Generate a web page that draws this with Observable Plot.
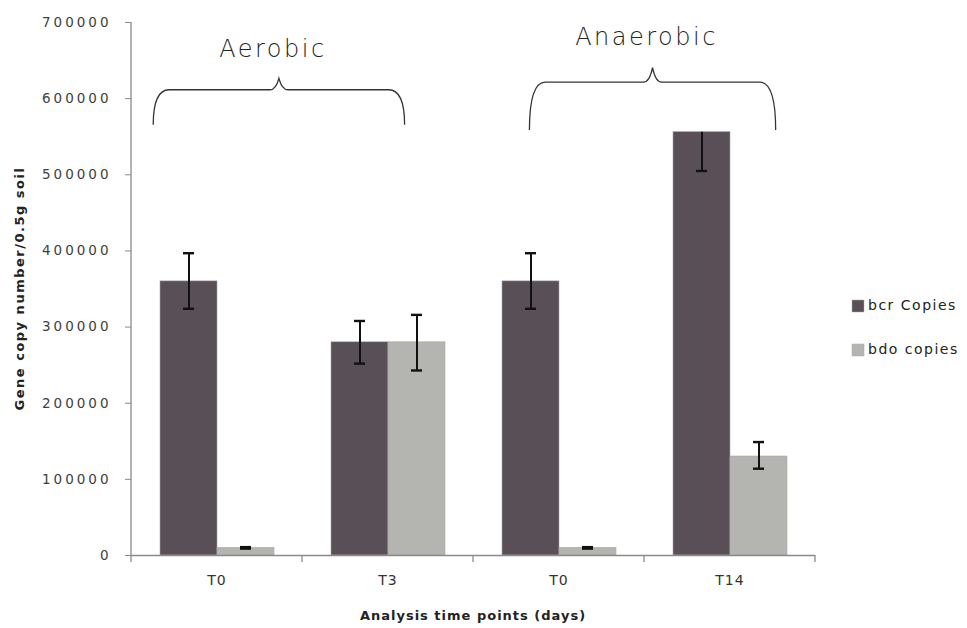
<!DOCTYPE html>
<html><head><meta charset="utf-8">
<script src="https://cdn.jsdelivr.net/npm/d3@7"></script>
<script src="https://cdn.jsdelivr.net/npm/@observablehq/plot@0.6"></script>
<style>
html,body{margin:0;padding:0;background:#fff;}
#chart{position:relative;width:967px;height:628px;}
</style></head><body><div id="chart"></div>
<script>
// ---- data ----
const categories = ["T0-aerobic", "T3", "T0-anaerobic", "T14"];
const tickLabels = ["T0", "T3", "T0", "T14"];
const series = ["bcr Copies", "bdo copies"];
const bcrValues = [360000, 280000, 360000, 556000];
const bdoValues = [10000, 280000, 10000, 130000];
const bcrErrUp = [37000, 28000, 37000, 0];
const bcrErrDown = [36000, 28000, 36000, 51000];
const bdoErrUp = [1000, 36000, 1000, 19000];
const bdoErrDown = [1000, 37000, 1000, 16000];
const yTicks = [0, 100000, 200000, 300000, 400000, 500000, 600000, 700000];
const groupNames = ["Aerobic", "Anaerobic"];
const groupFrom = ["T0-aerobic", "T0-anaerobic"];
const groupTo = ["T3", "T14"];
const braceEnd = [565000, 558000];
const braceMid = [611000, 621000];
const bracePeak = [626000, 640000];
const groupLabelY = [654000, 670000];
const yTitle = "Gene copy number/0.5g soil";
const xTitle = "Analysis time points (days)";

// ---- layout / style ----
const braceFromFrac = [0.13, 0.33];
const braceToFrac = [0.60, 0.77];
const colors = ["#584f57", "#b4b4b0"];
const FONT = "'DejaVu Sans', sans-serif";

const rows = categories.flatMap((c, i) => [
  {cat: c, series: series[0], value: bcrValues[i], hi: bcrValues[i] + bcrErrUp[i], lo: bcrValues[i] - bcrErrDown[i], up: bcrErrUp[i]},
  {cat: c, series: series[1], value: bdoValues[i], hi: bdoValues[i] + bdoErrUp[i], lo: bdoValues[i] - bdoErrDown[i], up: bdoErrUp[i]}
]);

const plot = Plot.plot({
  width: 967, height: 628,
  marginLeft: 130, marginRight: 152, marginTop: 22, marginBottom: 73,
  style: {fontFamily: FONT, fontSize: "13.5px", background: "#fff", color: "#404040", overflow: "visible"},
  fx: {domain: categories, padding: 0, label: null},
  x: {domain: series, paddingInner: 0, paddingOuter: 0.5, axis: null},
  y: {domain: [0, 700000]},
  color: {domain: series, range: colors},
  marks: [
    Plot.barY(rows, {fx: "cat", x: "series", y: "value", fill: "series", stroke: "#a8a8a8", strokeWidth: 0.6}),
    Plot.ruleX(rows, {fx: "cat", x: "series", y1: "lo", y2: "hi", stroke: "#111", strokeWidth: 2}),
    Plot.tickY(rows.filter(d => d.up > 0), {fx: "cat", x: "series", y: "hi", stroke: "#111", strokeWidth: 2.4, insetLeft: 23, insetRight: 23}),
    Plot.tickY(rows, {fx: "cat", x: "series", y: "lo", stroke: "#111", strokeWidth: 2.4, insetLeft: 23, insetRight: 23}),
    Plot.ruleY([0], {stroke: "#8a8a8a", strokeWidth: 1.3}),
    Plot.axisY({ticks: yTicks, tickFormat: d3.format("d"), tickSize: 6, tickPadding: 14, stroke: "#8a8a8a", fill: "#404040", label: null, fontSize: 13.5}),
    Plot.axisFx({anchor: "bottom", tickSize: 0, tickPadding: 20, tickFormat: c => tickLabels[categories.indexOf(c)], label: null, fill: "#333", fontSize: 14})
  ]
});

document.getElementById("chart").appendChild(plot);

// ---- annotations using the plot's own scales ----
const svg = d3.select(plot);
svg.selectAll("g[aria-label='y-axis tick label']").style("letter-spacing", "3px");
svg.selectAll("g[aria-label='fx-axis tick label']").style("letter-spacing", "1px");

const fxO = plot.scale("fx"), yO = plot.scale("y");
const fxS = d3.scaleBand(fxO.domain, fxO.range)
  .paddingInner(fxO.paddingInner ?? 0).paddingOuter(fxO.paddingOuter ?? 0)
  .align(fxO.align ?? 0.5).round(!!fxO.round);
const yS = d3.scaleLinear(yO.domain, yO.range);
const bw = fxS.bandwidth();
const x0 = fxS(categories[0]), x1 = fxS(categories[categories.length - 1]) + bw;
const base = yS(0);

// y axis line
svg.append("line").attr("x1", x0).attr("x2", x0).attr("y1", yS(0)).attr("y2", yS(700000))
  .attr("stroke", "#8a8a8a").attr("stroke-width", 1.3);
// category boundary ticks
const edges = categories.map(c => fxS(c)).concat([x1]);
svg.append("g").selectAll("line").data(edges).join("line")
  .attr("x1", d => d).attr("x2", d => d).attr("y1", base).attr("y2", base + 7)
  .attr("stroke", "#8a8a8a").attr("stroke-width", 1.3);

// braces and group labels
groupNames.forEach((name, i) => {
  const xL = fxS(groupFrom[i]) + braceFromFrac[i] * bw;
  const xR = fxS(groupTo[i]) + braceToFrac[i] * bw;
  const xP = (xL + xR) / 2;
  const yE = yS(braceEnd[i]), yH = yS(braceMid[i]), yP = yS(bracePeak[i]);
  const p = d3.path();
  p.moveTo(xL, yE);
  p.quadraticCurveTo(xL, yH, xL + 16, yH);
  p.lineTo(xP - 9, yH);
  p.quadraticCurveTo(xP - 3, yH, xP, yP);
  p.quadraticCurveTo(xP + 3, yH, xP + 9, yH);
  p.lineTo(xR - 16, yH);
  p.quadraticCurveTo(xR, yH, xR, yE);
  svg.append("path").attr("d", p.toString()).attr("fill", "none")
    .attr("stroke", "#333").attr("stroke-width", 1.3);
  svg.append("text").attr("x", xP - 6).attr("y", yS(groupLabelY[i]))
    .attr("text-anchor", "middle").attr("font-family", FONT).attr("font-size", 24)
    .attr("font-weight", 300).attr("letter-spacing", "2.5px").attr("fill", "#222").text(name);
});

// axis titles
svg.append("text").attr("transform", `translate(20,${(yS(0) + yS(700000)) / 2}) rotate(-90)`)
  .attr("text-anchor", "middle").attr("dominant-baseline", "middle")
  .attr("font-family", FONT).attr("font-size", 13).attr("font-weight", "bold")
  .attr("letter-spacing", "1.5px").attr("fill", "#222").text(yTitle);
svg.append("text").attr("x", (x0 + x1) / 2).attr("y", 620)
  .attr("text-anchor", "middle")
  .attr("font-family", FONT).attr("font-size", 13).attr("font-weight", "bold")
  .attr("letter-spacing", "1px").attr("fill", "#222").text(xTitle);

// legend (from the color scale)
const cO = plot.scale("color");
const leg = svg.append("g").attr("transform", "translate(852,300)");
cO.domain.forEach((s, i) => {
  const g = leg.append("g").attr("transform", `translate(0,${i * 44})`);
  g.append("rect").attr("width", 12).attr("height", 12).attr("fill", cO.range[i]).attr("stroke", "#aaa").attr("stroke-width", 0.5);
  g.append("text").attr("x", 16).attr("y", 6).attr("dominant-baseline", "middle")
    .attr("text-anchor", "start")
    .attr("font-family", FONT).attr("font-size", 14).attr("letter-spacing", "1.5px")
    .attr("fill", "#222").text(s);
});
</script></body></html>
